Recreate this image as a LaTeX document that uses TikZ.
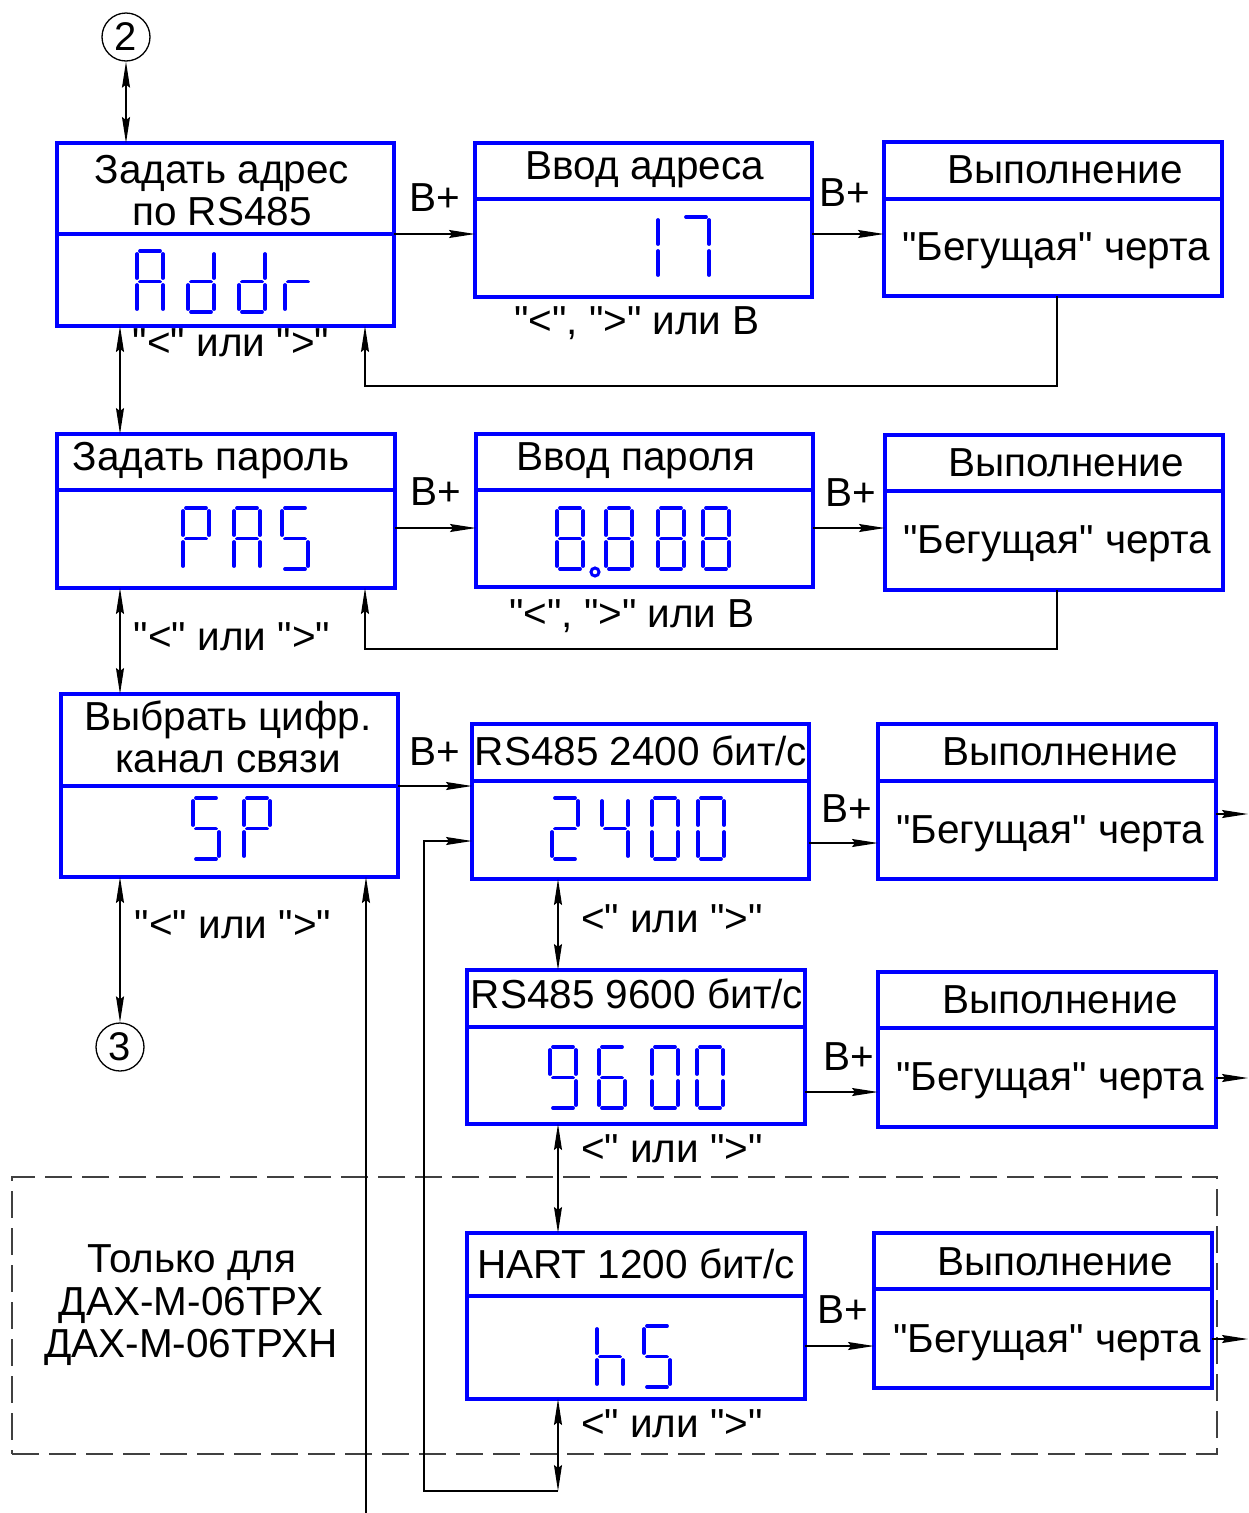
\documentclass[tikz,border=0pt]{standalone}
\usepackage{fontspec}
\setmainfont{Liberation Sans}[Ligatures=TeXOff]
\usetikzlibrary{arrows.meta,calc}
\definecolor{bblue}{RGB}{0,0,255}
\tikzset{
 boxst/.style={draw=bblue, line width=3.5pt, rectangle, inner sep=0pt, outer sep=0pt},
 divline/.style={draw=bblue, line width=3.5pt},
 seg/.style={draw=bblue, line width=3.8pt, line cap=round},
 conn/.style={draw=black, line width=1.3pt},
 arr/.style={conn, -{Stealth[length=26pt,width=8pt,inset=3pt]}},
 darr/.style={conn, {Stealth[length=26pt,width=8pt,inset=3pt]}-{Stealth[length=26pt,width=8pt,inset=3pt]}},
 txt/.style={anchor=base, inner sep=0pt, font=\fontsize{40.5}{46}\selectfont},
 dashbox/.style={draw=black!75, line width=1.3pt, dash pattern=on 27pt off 10pt, rectangle, inner sep=0pt, outer sep=0pt},
 circ/.style={draw=black, line width=1.3pt, circle, minimum size=48pt, inner sep=0pt, font=\fontsize{40}{46}\selectfont},
}
\def\sga{(3,0)--(23,0)}
\def\sgb{(26,3)--(26,27)}
\def\sgc{(26,34)--(26,58)}
\def\sgd{(3,61)--(23,61)}
\def\sge{(0,34)--(0,58)}
\def\sgf{(0,3)--(0,27)}
\def\sgg{(3,30.5)--(23,30.5)}
\newcommand\sdigit[3]{\begin{scope}[shift={(#1,#2)}]\foreach \s in {#3}{\edef\tmpseg{\csname sg\s\endcsname}\draw[seg] \tmpseg;}\end{scope}}
\newcommand\mkbox[6]{%
 \node[boxst, minimum width={(#4-#2)*1pt}, minimum height={(#5-#3)*1pt}] (#1) at ({(#2+#4)/2},{(#3+#5)/2}) {};
 \draw[divline] (#1.west |- 0,#6) -- (#1.east |- 0,#6);
}
\begin{document}
\begin{tikzpicture}[x=1pt,y=-1pt]
\useasboundingbox (0,0) rectangle (1248,1513);
\fill[white] (0,0) rectangle (1248,1513);
% dashed region
\node[dashbox, minimum width=1205pt, minimum height=277pt] (dbox) at (614.5,1315.5) {};
% boxes
\mkbox{b1}{57}{143}{394}{326}{234}
\mkbox{b2}{475}{143}{812}{297}{199}
\mkbox{b3}{884}{142}{1222}{296}{199}
\mkbox{b4}{57}{434}{395}{588}{490}
\mkbox{b5}{476}{434}{813}{587}{490}
\mkbox{b6}{885}{435}{1223}{590}{491}
\mkbox{b7}{61}{694}{398}{877}{786}
\mkbox{b8}{472}{724}{809}{879}{781}
\mkbox{b9}{878}{724}{1216}{879}{781}
\mkbox{b10}{467}{970}{805}{1124}{1027}
\mkbox{b11}{878}{972}{1216}{1127}{1028}
\mkbox{b12}{467}{1233}{805}{1399}{1296}
\mkbox{b13}{874}{1233}{1212}{1388}{1289}
% circles
\node[circ] (c2) at (126,37) {2};
\node[circ] (c3) at (120,1047) {3};
% texts
\node[txt] (t1a) at (222,183) {Задать адрес};
\node[txt] (t1b) at (222,225) {по RS485};
\node[txt] (l1) at (231,356) {"<" или ">"};
\node[txt] (bp1) at (435,211) {В+};
\node[txt] (t2) at (645,179) {Ввод адреса};
\node[txt] (l2) at (637,334) {"<", ">" или В};
\node[txt] (bp2) at (845,206) {В+};
\node[txt] (t3a) at (1065,183) {Выполнение};
\node[txt] (t3b) at (1056,260) {"Бегущая" черта};
\node[txt] (t4) at (211,470) {Задать пароль};
\node[txt] (bp4) at (436,505) {В+};
\node[txt] (l4) at (232,650) {"<" или ">"};
\node[txt] (t5) at (636,470) {Ввод пароля};
\node[txt] (l5) at (632,627) {"<", ">" или В};
\node[txt] (bp5) at (851,506) {В+};
\node[txt] (t6a) at (1066,476) {Выполнение};
\node[txt] (t6b) at (1057,553) {"Бегущая" черта};
\node[txt] (t7a) at (228,730) {Выбрать цифр.};
\node[txt] (t7b) at (228,772) {канал связи};
\node[txt] (bp7) at (435,765) {В+};
\node[txt] (l7) at (233,938) {"<" или ">"};
\node[txt] (t8) at (641,765) {RS485 2400 бит/с};
\node[txt] (bp8) at (847,822) {В+};
\node[txt] (l8) at (672,932) {<" или ">"};
\node[txt] (t10) at (637,1008) {RS485 9600 бит/с};
\node[txt] (bp10) at (849,1070) {В+};
\node[txt] (l10) at (672,1162) {<" или ">"};
\node[txt] (t9a) at (1060,765) {Выполнение};
\node[txt] (t9b) at (1050,843) {"Бегущая" черта};
\node[txt] (t11a) at (1060,1013) {Выполнение};
\node[txt] (t11b) at (1050,1090) {"Бегущая" черта};
\node[txt] (t12) at (636,1278) {HART 1200 бит/с};
\node[txt] (bp12) at (843,1323) {В+};
\node[txt] (l12) at (672,1437) {<" или ">"};
\node[txt] (t13a) at (1055,1275) {Выполнение};
\node[txt] (t13b) at (1047,1352) {"Бегущая" черта};
\node[txt] (d1) at (192,1272) {Только для};
\node[txt] (d2) at (191,1315) {ДАХ-М-06ТРХ};
\node[txt] (d3) at (191,1357) {ДАХ-М-06ТРХН};
% seven-segment displays
\sdigit{137}{251}{a,b,c,e,f,g}
\sdigit{188}{251}{b,c,d,e,g}
\sdigit{239}{251}{b,c,d,e,g}
\sdigit{285}{251}{e,g}
\sdigit{632}{217}{b,c}
\sdigit{683}{217}{a,b,c}
\sdigit{183}{508}{a,b,e,f,g}
\sdigit{234}{508}{a,b,c,e,f,g}
\sdigit{282}{508}{a,c,d,f,g}
\sdigit{557}{508}{a,b,c,d,e,f,g}
\draw[seg, line width=3pt] (595,572) circle[radius=4pt];
\sdigit{606}{508}{a,b,c,d,e,f,g}
\sdigit{658}{508}{a,b,c,d,e,f,g}
\sdigit{703}{508}{a,b,c,d,e,f,g}
\sdigit{193}{798}{a,c,d,f,g}
\sdigit{244}{798}{a,b,e,f,g}
\sdigit{552}{798}{a,b,d,e,g}
\sdigit{602}{798}{b,c,f,g}
\sdigit{652}{798}{a,b,c,d,e,f}
\sdigit{698}{798}{a,b,c,d,e,f}
\sdigit{550}{1047}{a,b,c,d,f,g}
\sdigit{599}{1047}{a,c,d,e,f,g}
\sdigit{652}{1047}{a,b,c,d,e,f}
\sdigit{697}{1047}{a,b,c,d,e,f}
\sdigit{597}{1326}{c,e,f,g}
\sdigit{644}{1326}{a,c,d,f,g}
% free ends
\coordinate (bot) at (366,1513);
\coordinate (lp) at (558,1491);
\coordinate (o9) at (1248,814);
\coordinate (o11) at (1248,1078);
\coordinate (o13) at (1248,1339);
% connectors
\draw[darr] (c2.south) -- (c2.south |- b1.north);
\draw[darr] (b1.south -| 120,0) -- (b4.north -| 120,0);
\draw[darr] (b4.south -| 120,0) -- (b7.north -| 120,0);
\draw[darr] (b7.south -| 120,0) -- (c3.north);
\draw[arr] (b1.east |- 0,234) -- (b2.west |- 0,234);
\draw[arr] (b2.east |- 0,234) -- (b3.west |- 0,234);
\draw[arr] (b3.south -| 1057,0) -- (1057,386) -- (365,386) -- (b1.south -| 365,0);
\draw[arr] (b4.east |- 0,528) -- (b5.west |- 0,528);
\draw[arr] (b5.east |- 0,528) -- (b6.west |- 0,528);
\draw[arr] (b6.south -| 1057,0) -- (1057,649) -- (365,649) -- (b4.south -| 365,0);
\draw[arr] (b7.east |- 0,786) -- (b8.west |- 0,786);
\draw[arr] (bot) -- (b7.south -| bot);
\draw[arr] (b8.east |- 0,843) -- (b9.west |- 0,843);
\draw[darr] (b8.south -| 558,0) -- (b10.north -| 558,0);
\draw[arr] (b10.east |- 0,1092) -- (b11.west |- 0,1092);
\draw[darr] (b10.south -| 558,0) -- (b12.north -| 558,0);
\draw[arr] (b12.east |- 0,1346) -- (b13.west |- 0,1346);
\draw[darr] (b12.south -| lp) -- (lp);
\draw[arr] (lp) -- (424,1491) -- (424,841) -- (b8.west |- 0,841);
\draw[arr] (b9.east |- o9) -- (o9);
\draw[arr] (b11.east |- o11) -- (o11);
\draw[arr] (b13.east |- o13) -- (o13);
\end{tikzpicture}
\end{document}
